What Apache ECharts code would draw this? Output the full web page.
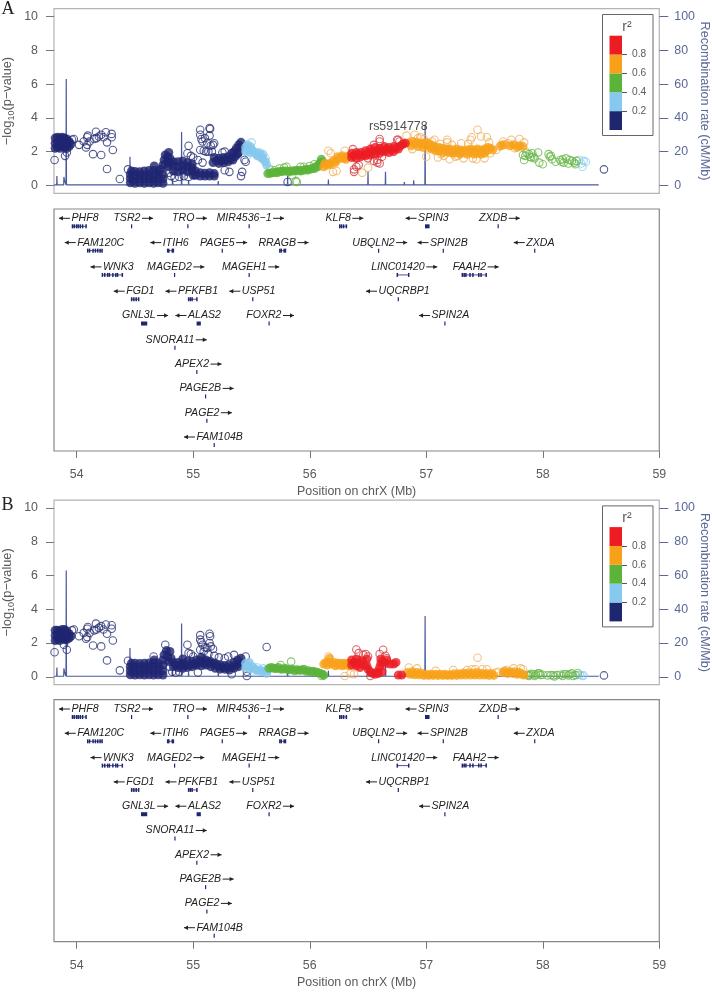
<!DOCTYPE html>
<html><head><meta charset="utf-8">
<style>html,body{margin:0;padding:0;background:#fff}#c{width:712px;height:992px}</style>
<script src="https://cdn.jsdelivr.net/npm/echarts@6/dist/echarts.min.js"></script>
</head><body><div id="c"></div>
<script>
const xTicks=[54,55,56,57,58,59];
const pTicks=[0,2,4,6,8,10];
const rTicks=[0,20,40,60,80,100];
const legendSteps=[0.2,0.2,0.2,0.2,0.2];
const legendTicks=[0.2,0.4,0.6,0.8];
const recomb=[[53.805,0.3],[53.828,0.3],[53.83,5.5],[53.832,0.3],[53.888,0.3],[53.89,5],[53.895,3],[53.908,0.3],[53.91,63],[53.912,0.3],[54.07,0.3],[54.07,0.8],[54.072,0.3],[54.455,0.3],[54.457,17],[54.459,0.3],[54.82,0.3],[54.822,4],[54.826,0.3],[54.898,0.3],[54.9,31.6],[54.902,0.3],[54.958,0.3],[54.96,3],[54.962,0.3],[55.213,0.3],[55.215,2.5],[55.217,0.3],[55.31,0.3],[55.312,1.2],[55.314,0.3],[55.35,0.3],[55.352,1],[55.354,0.3],[55.67,0.3],[55.672,1],[55.674,0.3],[55.808,0.3],[55.81,5.5],[55.812,0.3],[56.158,0.3],[56.16,3.5],[56.162,0.3],[56.498,0.3],[56.5,8],[56.502,0.3],[56.618,0.3],[56.62,1],[56.622,0.3],[56.648,0.3],[56.65,8],[56.652,0.3],[56.758,0.3],[56.76,1],[56.762,0.3],[56.81,0.3],[56.812,2],[56.814,0.3],[56.85,0.3],[56.852,1],[56.854,0.3],[56.89,0.3],[56.892,3],[56.894,0.3],[56.988,0.3],[56.99,36],[56.992,0.3],[57.105,0.3],[57.107,0.8],[57.109,0.3],[57.45,0.3],[57.452,0.8],[57.454,0.3],[58.48,0.3]];

const aNavyCore=[[53.815,2.2],[53.815,2.5],[53.815,2.8],[53.835,2.25],[53.835,2.55],[53.835,2.85],[53.855,2.2],[53.855,2.5],[53.855,2.8],[53.875,2.3],[53.875,2.6],[53.875,2.85],[53.895,2.25],[53.895,2.55],[53.895,2.8],[53.915,2.2],[53.915,2.5],[53.915,2.75],[53.935,2.3],[53.935,2.6],[53.95,2.45],
[54.46,.15],[54.46,.4],[54.46,.65],[54.47,.85],[54.5,.12],[54.5,.35],[54.5,.6],[54.5,.82],[54.54,.15],[54.54,.4],[54.54,.62],[54.54,.8],[54.58,.12],[54.58,.38],[54.58,.6],[54.58,.85],[54.62,.15],[54.62,.4],[54.62,.65],[54.62,.88],[54.66,.12],[54.66,.36],[54.66,.62],[54.66,.9],[54.665,1.15],[54.7,.15],[54.7,.4],[54.7,.66],[54.7,.85],[54.74,.12],[54.74,.38],[54.74,.65],[54.72,.95],[54.74,1.2],[54.75,1.5],[54.76,1.8],[54.78,1.1],[54.78,1.4],[54.78,1.7],[54.79,1.95],[54.8,1.3],[54.8,1.6],
[54.83,.85],[54.83,1.15],[54.83,1.4],[54.87,.8],[54.87,1.1],[54.87,1.4],[54.91,.9],[54.91,1.15],[54.91,1.45],[54.95,.8],[54.95,1.1],[54.95,1.35],[54.99,.85],[54.99,1.05],[54.99,1.25],[55.0,.6],
[55.02,.6],[55.02,.85],[55.06,.55],[55.06,.75],[55.1,.55],[55.1,.72],[55.14,.55],[55.14,.75],[55.18,.55],[55.18,.7],
[55.17,1.35],[55.18,1.65],[55.2,1.45],[55.22,1.3],[55.22,1.6],[55.24,1.45],[55.26,1.35],[55.26,1.65],[55.28,1.5],[55.3,1.4],[55.3,1.7],[55.32,1.55],[55.34,1.5],[55.33,1.9],[55.35,2.0],[55.36,1.7],[55.37,2.2],[55.38,1.85],[55.39,2.4],[55.39,1.95],[55.41,2.55],[55.41,2.25]];
const aNavyOpen=[[53.81,1.5],[53.9,1.75],[53.915,1.95],[53.96,2.7],[53.975,2.75],[54.02,2.4],[54.06,2.6],[54.08,2.25],[54.09,2.4],[54.09,2.85],[54.095,2.95],[54.11,2.6],[54.14,1.85],[54.15,2.75],[54.165,3.18],[54.17,2.8],[54.19,2.9],[54.21,1.8],[54.21,3.0],[54.23,2.85],[54.25,3.15],[54.26,2.55],[54.26,.97],[54.3,3.05],[54.3,2.85],[54.31,2.1],[54.37,.38],[54.44,.95],[54.76,1.25],[54.79,.75],[54.81,.55],[54.84,.45],[54.88,.5],[54.92,.55],[54.96,.5],[54.95,1.9],[54.96,2.35],[54.98,1.75],[55.0,1.65],[55.04,1.5],[55.08,1.35],[55.06,3.3],[55.06,3.0],[55.07,2.75],[55.14,3.4],[55.145,3.35],[55.14,2.95],[55.08,2.6],[55.1,2.8],[55.12,2.5],[55.17,2.4],[55.15,2.35],[55.06,2.1],[55.09,2.05],[55.11,2.0],[55.13,2.0],[55.16,2.0],[55.18,2.5],[55.27,.9],[55.31,.8],[55.27,2.0],[55.25,1.95],[55.41,.55],[55.42,.8],[55.45,1.4],[55.44,1.5],[55.81,.2]];
const aBlueCore=[[55.45,2.0],[55.45,2.25],[55.465,2.4],[55.47,2.1],[55.485,1.95],[55.49,2.3],[55.5,2.15],[55.52,2.0],[55.54,1.85],[55.55,1.75],[55.56,1.9],[55.58,1.65],[55.59,1.8],[55.6,1.55],[55.62,1.4],[55.63,1.2]];
const aBlueOpen=[[55.5,2.55],[55.54,1.95],[55.57,1.95],[55.6,1.85],[55.62,1.6],[55.47,1.8],[58.31,1.5],[58.33,1.3],[58.35,1.45],[58.34,1.1],[58.37,1.4]];
const aGreenCore=[[55.64,.7],[55.66,.72],[55.68,.75],[55.7,.78],[55.72,.75],[55.74,.82],[55.76,.82],[55.78,.85],[55.8,.85],[55.82,.8],[55.84,.85],[55.86,.85],[55.88,.88],[55.9,.9],[55.92,.85],[55.94,.88],[55.96,.95],[55.98,.9],[56,.95],[56.02,1.0],[56.04,1.0],[56.05,1.1],[56.07,1.1],[56.08,1.25],[56.09,1.35],[56.1,1.55],[56.11,1.4]];
const aGreenOpen=[[55.74,1.0],[55.78,1.05],[55.8,1.1],[55.85,.6],[55.88,.25],[55.89,.2],[55.92,1.1],[55.95,1.1],[56.0,1.15],[56.04,1.25],[55.7,.9],[55.66,.95],[57.83,1.8],[57.84,1.5],[57.86,1.95],[57.89,1.7],[57.91,1.9],[57.93,1.6],[57.96,1.95],[57.97,1.35],[58.0,1.25],[58.05,1.85],[58.06,1.7],[58.08,1.55],[58.11,1.4],[58.15,1.5],[58.17,1.55],[58.2,1.6],[58.22,1.3],[58.25,1.45],[58.28,1.25],[58.29,1.45],[57.88,1.85],[58.07,1.75],[57.85,1.75],[57.9,1.65],[57.92,1.7],[58.16,1.4],[58.18,1.35],[58.23,1.5],[58.27,1.35]];
const aOrangeCore=[[56.12,1.1],[56.13,1.3],[56.15,1.2],[56.17,1.3],[56.18,1.25],[56.2,1.45],[56.22,1.35],[56.23,1.5],[56.24,1.7],[56.26,1.6],[56.28,1.75],[56.29,1.6],[56.31,1.55],[56.32,1.7],[56.34,1.75],[56.85,2.5],[56.87,2.35],[56.88,2.6],[56.9,2.45],[56.92,2.55],[56.93,2.3],[56.95,2.5],[56.97,2.25],[56.98,2.45],[57,2.35],[57,2.55],[57.03,2.25],[57.03,2.45],[57.05,2.15],[57.06,2.35],[57.08,2.05],[57.08,2.25],[57.11,2.05],[57.11,2.25],[57.14,1.95],[57.14,2.2],[57.17,2.0],[57.17,2.15],[57.2,1.95],[57.2,2.15],[57.23,1.9],[57.23,2.1],[57.26,1.95],[57.26,2.15],[57.29,1.85],[57.29,2.1],[57.32,1.95],[57.32,2.05],[57.35,1.85],[57.35,2.1],[57.38,1.95],[57.38,2.15],[57.41,1.85],[57.41,2.1],[57.44,1.9],[57.44,2.15],[57.47,1.85],[57.47,2.1],[57.5,1.9],[57.5,2.15],[57.52,2.05],[57.53,2.25],[57.55,2.2],[57.57,2.1],[57.72,2.35],[57.75,2.4],[57.78,2.25],[57.8,2.35],[57.83,2.3],[57.66,2.4],[57.64,2.35]];
const aOrangeOpen=[[56.2,.8],[56.23,.85],[56.18,1.9],[56.16,2.05],[56.3,2.05],[56.45,.75],[56.5,1.05],[56.83,2.95],[56.88,2.15],[56.9,3.0],[56.93,2.8],[56.95,2.85],[56.98,2.75],[57,1.7],[57.02,2.2],[57.05,2.6],[57.07,2.7],[57.1,1.65],[57.13,1.85],[57.18,2.7],[57.18,2.55],[57.2,1.55],[57.25,1.7],[57.27,1.75],[57.3,2.5],[57.32,1.6],[57.36,2.45],[57.38,2.7],[57.39,2.85],[57.4,1.6],[57.43,1.55],[57.44,3.3],[57.47,2.9],[57.5,1.6],[57.52,2.85],[57.54,2.55],[57.6,2.1],[57.66,2.6],[57.68,2.4],[57.73,2.7],[57.76,2.2],[57.8,2.75],[57.84,2.55],[57.55,1.9],[57.63,2.3],[57.7,2.5],[57.12,2.45],[57.22,2.4],[57.15,1.75]];
const aRedCore=[[56.36,1.65],[56.36,1.9],[56.38,1.75],[56.4,1.6],[56.4,1.95],[56.42,1.8],[56.44,1.7],[56.44,1.95],[56.46,1.8],[56.48,1.75],[56.48,2.05],[56.5,1.9],[56.52,1.8],[56.52,2.15],[56.54,2.0],[56.56,1.85],[56.56,2.25],[56.58,2.05],[56.6,1.9],[56.6,2.2],[56.62,2.05],[56.64,2.0],[56.64,2.3],[56.66,2.15],[56.68,1.95],[56.68,2.25],[56.7,2.1],[56.72,2.0],[56.72,2.3],[56.74,2.2],[56.76,2.15],[56.78,2.35],[56.8,2.45],[56.82,2.5]];
const aRedOpen=[[56.38,.8],[56.38,.95],[56.4,1.1],[56.42,1.2],[56.55,1.45],[56.58,1.5],[56.6,1.3],[56.58,1.35],[56.62,1.7],[56.6,2.6],[56.75,2.7],[56.76,2.7],[56.77,2.6],[56.5,1.6],[56.55,2.4],[56.6,2.75],[56.37,2.15]];
const aLead=[[56.76,3.48]];

const bNavyCore=[[53.815,2.15],[53.815,2.45],[53.815,2.75],[53.835,2.2],[53.835,2.5],[53.835,2.75],[53.855,2.15],[53.855,2.4],[53.855,2.7],[53.875,2.3],[53.875,2.55],[53.875,2.8],[53.895,2.2],[53.895,2.5],[53.895,2.8],[53.915,2.2],[53.915,2.45],[53.915,2.7],[53.935,2.3],[53.935,2.55],[53.95,2.4],
[54.46,.12],[54.46,.35],[54.46,.6],[54.47,.8],[54.5,.1],[54.5,.32],[54.5,.58],[54.5,.8],[54.54,.12],[54.54,.35],[54.54,.58],[54.54,.78],[54.58,.1],[54.58,.35],[54.58,.6],[54.58,.8],[54.62,.12],[54.62,.38],[54.62,.6],[54.62,.82],[54.66,.1],[54.66,.35],[54.66,.6],[54.66,.85],[54.665,1.0],[54.7,.12],[54.7,.38],[54.7,.62],[54.7,.8],[54.74,.1],[54.74,.35],[54.74,.7],[54.74,1.0],[54.75,1.3],[54.77,1.55],[54.78,1.2],[54.79,.9],[54.8,1.5],[54.81,1.1],
[54.83,.6],[54.83,.85],[54.85,.7],[54.87,.55],[54.87,.85],[54.89,.7],[54.91,.5],[54.91,.8],[54.91,1.05],[54.93,.65],[54.95,.55],[54.95,.9],[54.97,.7],[54.99,.6],[54.99,.9],[55.01,.75],
[55.03,.7],[55.03,1.0],[55.05,.85],[55.07,.65],[55.07,.95],[55.07,1.15],[55.09,.8],[55.11,.7],[55.11,1.0],[55.13,.85],[55.15,.6],[55.15,.9],[55.17,.75],[55.19,.5],[55.19,.8],[55.21,.65],[55.23,.45],[55.23,.7],[55.25,.55],[55.27,.45],[55.27,.65],[55.29,.55],[55.31,.4],[55.31,.7],[55.33,.55],[55.35,.5],[55.35,.85],[55.37,.7],[55.38,1.0],[55.39,.6],[55.41,.8],[55.41,1.1]];
const bNavyOpen=[[53.81,1.45],[53.89,1.9],[53.915,1.6],[53.96,2.75],[53.975,2.8],[54.02,2.4],[54.06,2.6],[54.08,2.25],[54.09,2.35],[54.09,2.85],[54.095,2.95],[54.11,2.6],[54.14,1.85],[54.15,2.75],[54.165,3.15],[54.17,2.8],[54.19,2.9],[54.21,1.8],[54.21,3.0],[54.23,2.8],[54.25,3.1],[54.26,2.55],[54.26,.97],[54.3,3.05],[54.3,2.85],[54.31,2.15],[54.37,.38],[54.44,.95],[54.66,1.2],[54.76,1.9],[54.8,.6],[54.82,.3],[54.85,.25],[54.88,.3],[54.95,1.9],[54.96,1.4],[54.98,1.35],[55,1.2],[55.04,.25],[55.06,2.47],[55.06,2.2],[55.07,2.05],[55.08,1.9],[55.14,2.55],[55.145,2.4],[55.14,2.0],[55.1,1.75],[55.12,1.7],[55.17,1.65],[55.15,1.8],[55.06,1.6],[55.09,1.5],[55.13,1.35],[55.18,1.25],[55.22,1.15],[55.27,1.1],[55.3,1.2],[55.35,1.3],[55.33,.15],[55.45,1.2],[55.46,.3],[55.46,.05],[55.63,1.76]];
const bBlueCore=[[55.45,.55],[55.45,.8],[55.47,.65],[55.48,.85],[55.49,.45],[55.51,.6],[55.53,.45],[55.55,.35],[55.57,.4],[55.59,.3],[55.61,.35],[55.63,.2],[55.64,.4]];
const bBlueOpen=[[55.55,.55],[55.6,.5],[55.5,.3],[58.3,.1],[58.32,.12],[58.34,.05],[58.35,.08]];
const bGreenCore=[[55.65,.5],[55.67,.55],[55.69,.5],[55.71,.48],[55.73,.55],[55.75,.45],[55.77,.46],[55.79,.5],[55.81,.42],[55.83,.42],[55.85,.45],[55.87,.35],[55.89,.42],[55.91,.38],[55.93,.4],[55.95,.45],[55.97,.32],[55.99,.36],[56.01,.3],[56.03,.32],[56.05,.28],[56.07,.25],[56.09,.2],[56.11,.15],[56.12,.08]];
const bGreenOpen=[[55.84,.9],[56.1,.05],[55.75,.7],[57.87,.12],[57.88,.05],[57.89,.1],[57.92,.15],[57.93,.05],[57.94,.12],[57.96,.2],[57.98,.1],[58,.12],[58.04,.08],[58.07,.1],[58.09,.08],[58.1,.02],[58.12,.1],[58.15,.12],[58.17,.05],[58.2,.15],[58.22,.08],[58.25,.2],[58.26,.05],[58.28,.1],[58.3,.22],[57.9,.18],[57.97,.2],[58.18,.15],[58.23,.15]];
const bOrangeCore=[[56.12,.75],[56.14,.85],[56.15,.7],[56.17,1.1],[56.17,.85],[56.19,.75],[56.21,.85],[56.22,.65],[56.24,.8],[56.25,.7],[56.27,.8],[56.28,.65],[56.3,.8],[56.31,.7],[56.33,.8],[56.34,.65],[56.84,.25],[56.86,.15],[56.88,.3],[56.9,.12],[56.92,.25],[56.94,.12],[56.96,.2],[56.98,.08],[57,.15],[57.02,.08],[57.04,.15],[57.06,.08],[57.08,.15],[57.1,.08],[57.12,.15],[57.14,.08],[57.16,.15],[57.18,.08],[57.2,.12],[57.22,.08],[57.24,.18],[57.26,.08],[57.28,.18],[57.3,.1],[57.32,.22],[57.34,.1],[57.36,.22],[57.38,.1],[57.4,.22],[57.42,.1],[57.44,.25],[57.46,.1],[57.48,.2],[57.5,.1],[57.52,.2],[57.54,.08],[57.56,.2],[57.58,.08],[57.7,.2],[57.72,.3],[57.74,.2],[57.76,.3],[57.78,.15],[57.8,.25],[57.82,.15],[57.84,.1],[57.66,.25],[57.68,.3]];
const bOrangeOpen=[[56.16,1.2],[56.3,.05],[56.35,.2],[56.38,.15],[56.85,.55],[56.92,.5],[57.08,.35],[57.23,.4],[57.35,.4],[57.39,.45],[57.42,.45],[57.44,1.13],[57.48,.45],[57.52,.45],[57.62,.3],[57.67,.35],[57.69,.4],[57.75,.5],[57.81,.5],[57.83,.45],[56.95,.25],[57.6,.25]];
const bRedCore=[[56.36,.7],[56.36,1.0],[56.38,.85],[56.4,.65],[56.4,1.05],[56.42,.85],[56.43,.55],[56.45,.95],[56.46,.7],[56.49,1.05],[56.49,.65],[56.5,.45],[56.52,.3],[56.54,.2],[56.56,.15],[56.58,.3],[56.59,.2],[56.62,.3],[56.6,.55],[56.61,.8],[56.61,1.05],[56.63,.9],[56.65,.8],[56.66,1.0],[56.69,.75],[56.72,.75],[56.74,.85],[56.76,.1],[56.79,.1]];
const bRedOpen=[[56.4,1.62],[56.42,1.4],[56.46,1.3],[56.48,1.35],[56.5,1.2],[56.52,.05],[56.6,1.35],[56.63,1.6],[56.65,1.25],[56.66,1.1]];
const bLoneNavy=[[58.525,.08]];
const aLoneNavy=[[58.525,.95]];

const geneNames=['PHF8','TSR2','TRO','MIR4536−1','KLF8','SPIN3','ZXDB','FAM120C','ITIH6','PAGE5','RRAGB','UBQLN2','SPIN2B','ZXDA','WNK3','MAGED2','MAGEH1','LINC01420','FAAH2','FGD1','PFKFB1','USP51','UQCRBP1','GNL3L','ALAS2','FOXR2','SPIN2A','SNORA11','APEX2','PAGE2B','PAGE2','FAM104B'];
const geneRows=[0,0,0,0,0,0,0,1,1,1,1,1,1,1,2,2,2,2,2,3,3,3,3,4,4,4,4,5,6,7,8,9];
const geneDirs=[-1,1,1,1,1,-1,1,-1,-1,1,1,1,-1,-1,-1,1,1,1,1,-1,-1,-1,-1,1,-1,1,-1,1,1,1,1,-1];
const geneLabelX=[54.071,54.431,54.914,55.436,56.244,57.061,57.574,54.206,54.85,55.207,55.721,56.547,57.194,57.979,54.357,54.796,55.439,56.757,57.371,54.546,55.041,55.561,56.81,54.533,55.096,55.606,57.207,54.8,54.989,55.061,55.076,55.227];
const geneStart=[53.963,54.471,54.954,55.48,56.257,56.994,57.617,54.094,54.78,55.249,55.743,56.591,57.146,57.931,54.22,54.84,55.48,56.751,57.309,54.471,54.96,55.511,56.76,54.557,55.034,55.651,57.16,54.843,55.031,55.106,55.117,55.18];
const geneEnd=[54.08,54.471,54.954,55.48,56.314,57.023,57.617,54.217,54.829,55.249,55.791,56.591,57.146,57.931,54.391,54.84,55.48,56.849,57.514,54.531,55.031,55.511,56.76,54.6,55.06,55.651,57.16,54.843,55.031,55.106,55.117,55.18];
const geneExons={PHF8:[53.963,53.978,53.998,54.012,54.03,54.05,54.08],FAM120C:[54.094,54.11,54.14,54.16,54.18,54.2,54.217],ITIH6:[54.78,54.79,54.82,54.829],RRAGB:[55.743,55.755,55.78,55.791],KLF8:[56.257,56.272,56.29,56.314],WNK3:[54.22,54.24,54.265,54.28,54.31,54.335,54.35,54.391],FGD1:[54.471,54.49,54.51,54.531],PFKFB1:[54.96,54.975,54.99,55.031],LINC01420:[56.751,56.849],FAAH2:[57.309,57.325,57.34,57.375,57.4,57.45,57.47,57.514]};

const FONT='"Liberation Sans",Arial,sans-serif';
const GREY='#5a5a5a', TICK='#777', RC='#5a6899', LINE='#4a5a9c';
const C={navy:'#1f2670',blue:'#86c8ee',green:'#5bb33a',orange:'#f7a11a',red:'#ec1c24'};
const O={navy:'#2b3275',blue:'#8fcdf0',green:'#68b848',orange:'#f0b05c',red:'#d43a3e'};
const XMIN=53.805,XMAX=59;
const W=605.3,L=54;
const measure=document.createElement('canvas').getContext('2d');
const GENE_FONT='italic 10.6px '+FONT;
measure.font=GENE_FONT;

const grid=[],xAxis=[],yAxis=[],series=[],graphic=[];

function panel(dy,geneDy,name,sets,lead){
  const gi=grid.length;
  grid.push({left:L,width:W,top:8.7+dy,height:184.6,show:true,backgroundColor:'#fff',borderColor:'#b4b4b4',borderWidth:1.2,outerBoundsMode:'none'});
  xAxis.push({gridIndex:gi,type:'value',min:XMIN,max:XMAX,show:false});
  const xi=xAxis.length-1;
  const yi=yAxis.length;
  yAxis.push({gridIndex:gi,type:'value',min:-0.47,max:10.47,splitLine:{show:false},axisLine:{show:false,onZero:false},
    axisTick:{show:true,length:8,lineStyle:{color:TICK,width:1},customValues:pTicks},
    axisLabel:{color:GREY,fontFamily:FONT,fontSize:12.4,margin:16,customValues:pTicks},
    name:'{a|−log}{s|10}{a|(p−value)}',nameLocation:'middle',nameGap:38,nameMoveOverlap:false,
    nameTextStyle:{rich:{a:{color:GREY,fontFamily:FONT,fontSize:12.8},s:{color:GREY,fontFamily:FONT,fontSize:9,verticalAlign:'bottom',lineHeight:18}}}});
  yAxis.push({gridIndex:gi,type:'value',position:'right',min:-4.7,max:104.7,splitLine:{show:false},axisLine:{show:false,onZero:false},
    axisTick:{show:true,length:9,lineStyle:{color:RC,width:1},customValues:rTicks},
    axisLabel:{color:RC,fontFamily:FONT,fontSize:12.4,margin:15,customValues:rTicks},
    name:'Recombination rate (cM/Mb)',nameLocation:'middle',nameGap:39,nameRotate:-90,nameMoveOverlap:false,
    nameTextStyle:{color:RC,fontFamily:FONT,fontSize:12.6}});
  series.push({name:'recomb'+name,type:'line',xAxisIndex:xi,yAxisIndex:yi+1,data:recomb,showSymbol:false,symbol:'none',lineStyle:{color:LINE,width:1.2},z:1,animation:false});
  sets.forEach(([d,k,core])=>{
    series.push({type:'scatter',xAxisIndex:xi,yAxisIndex:yi,data:d,z:core?3:2,animation:false,silent:true,
      symbol:'circle',symbolSize:core?9:7.5,
      itemStyle:core?{color:C[k],borderWidth:0}:{color:'rgba(255,255,255,0)',borderColor:O[k],borderWidth:1.1}});
  });
  if(lead){
    series.push({type:'scatter',xAxisIndex:xi,yAxisIndex:yi,data:lead,symbolSize:0,z:5,animation:false,silent:true,
      label:{show:true,position:'inside',formatter:'rs5914778',color:'#222',fontFamily:FONT,fontSize:12.4}});
  }

  // legend colour bar
  const li=grid.length;
  grid.push({left:609.5,width:12.5,top:35.7+dy,height:94.3,show:false,outerBoundsMode:'none'});
  xAxis.push({gridIndex:li,type:'category',data:['r2'],show:false});
  const lx=xAxis.length-1;
  const ly=yAxis.length;
  yAxis.push({gridIndex:li,type:'value',position:'right',min:0,max:1,splitLine:{show:false},axisLine:{show:false,onZero:false},z:6,
    axisTick:{show:true,length:5,lineStyle:{color:'#555',width:1},customValues:legendTicks},
    axisLabel:{color:GREY,fontFamily:FONT,fontSize:10.2,margin:10,customValues:legendTicks,formatter:v=>v.toFixed(1)}});
  ['navy','blue','green','orange','red'].forEach((k,i)=>{
    series.push({type:'bar',stack:'r'+name,xAxisIndex:lx,yAxisIndex:ly,data:[legendSteps[i]],barWidth:'100%',itemStyle:{color:C[k]},z:6,animation:false,silent:true});
  });
  graphic.push({type:'rect',shape:{x:602.5,y:14.5+dy,width:50.5,height:121},style:{fill:'#fff',stroke:'#666',lineWidth:1},z:1});
  graphic.push({type:'text',x:627,y:27+dy,style:{text:'r²',fill:GREY,font:'14px '+FONT,textAlign:'center',textVerticalAlign:'middle'},z:7});

  // gene panel
  const ggi=grid.length;
  grid.push({left:L,width:W,top:209+geneDy,height:242,show:true,backgroundColor:'#fff',borderColor:'#888',borderWidth:1.2,outerBoundsMode:'none'});
  xAxis.push({gridIndex:ggi,type:'value',min:XMIN,max:XMAX,splitLine:{show:false},
    axisLine:{show:false,onZero:false},axisTick:{show:true,length:7,lineStyle:{color:TICK,width:1},customValues:xTicks},
    axisLabel:{color:GREY,fontFamily:FONT,fontSize:12.4,margin:18,customValues:xTicks},
    name:'Position on chrX (Mb)',nameLocation:'middle',nameGap:35,nameMoveOverlap:false,nameTextStyle:{color:GREY,fontFamily:FONT,fontSize:12.4}});
  const gx=xAxis.length-1;
  yAxis.push({gridIndex:ggi,type:'value',inverse:true,min:-0.383,max:9.576,show:false});
  const gy=yAxis.length-1;
  series.push({type:'custom',xAxisIndex:gx,yAxisIndex:gy,animation:false,silent:true,clip:false,z:4,
    data:geneNames.map((n,i)=>[geneLabelX[i],geneRows[i],i]),
    encode:{x:0,y:1},
    renderItem:(p,api)=>{
      const i=api.value(2),n=geneNames[i],row=geneRows[i],dir=geneDirs[i];
      const [cx,cy]=api.coord([geneLabelX[i],row]);
      const tw=measure.measureText(n).width;
      const ch=[{type:'text',style:{x:cx,y:cy,text:n,fill:'#222',font:GENE_FONT,textAlign:'center',textVerticalAlign:'middle'}}];
      const a0=dir>0?cx+tw/2+1.5:cx-tw/2-1.5, a1=a0+dir*11;
      ch.push({type:'line',shape:{x1:a0,y1:cy,x2:a1,y2:cy},style:{stroke:'#222',lineWidth:1}});
      ch.push({type:'polygon',shape:{points:[[a1,cy],[a1-dir*4,cy-2.2],[a1-dir*4,cy+2.2]]},style:{fill:'#222'}});
      const ey=api.coord([geneLabelX[i],row+0.33])[1];
      const s=api.coord([geneStart[i],row])[0], e=api.coord([geneEnd[i],row])[0];
      const NV=C.navy;
      if(e-s>0.1){ch.push({type:'line',shape:{x1:s,y1:ey,x2:e,y2:ey},style:{stroke:NV,lineWidth:0.8}});}
      const ex=geneExons[n];
      if(ex){ex.forEach(v=>{const x=api.coord([v,row])[0];ch.push({type:'rect',shape:{x:x-0.7,y:ey-2,width:1.5,height:4},style:{fill:NV}});});}
      else{ch.push({type:'rect',shape:{x:s-0.6,y:ey-2,width:Math.max(1.2,e-s+1.2),height:4},style:{fill:NV}});}
      return {type:'group',children:ch};
    }});
}

panel(0,0,'A',[
  [aNavyOpen,'navy',0],[aNavyCore,'navy',1],[aLoneNavy,'navy',0],
  [aBlueOpen,'blue',0],[aBlueCore,'blue',1],
  [aGreenOpen,'green',0],[aGreenCore,'green',1],
  [aOrangeOpen,'orange',0],[aOrangeCore,'orange',1],
  [aRedOpen,'red',0],[aRedCore,'red',1]
],aLead);
panel(491.4,490.7,'B',[
  [bNavyOpen,'navy',0],[bNavyCore,'navy',1],[bLoneNavy,'navy',0],
  [bBlueOpen,'blue',0],[bBlueCore,'blue',1],
  [bGreenOpen,'green',0],[bGreenCore,'green',1],
  [bOrangeOpen,'orange',0],[bOrangeCore,'orange',1],
  [bRedOpen,'red',0],[bRedCore,'red',1]
],null);

graphic.push({type:'text',x:1.5,y:9.5,style:{text:'A',fill:'#222',font:'18px "Liberation Serif",serif',textVerticalAlign:'middle'},z:7});
graphic.push({type:'text',x:1.5,y:505.5,style:{text:'B',fill:'#222',font:'18px "Liberation Serif",serif',textVerticalAlign:'middle'},z:7});

const chart=echarts.init(document.getElementById('c'),null,{renderer:'canvas',width:712,height:992});
chart.setOption({animation:false,backgroundColor:'#fff',tooltip:{show:false},grid,xAxis,yAxis,series,graphic});
</script></body></html>
